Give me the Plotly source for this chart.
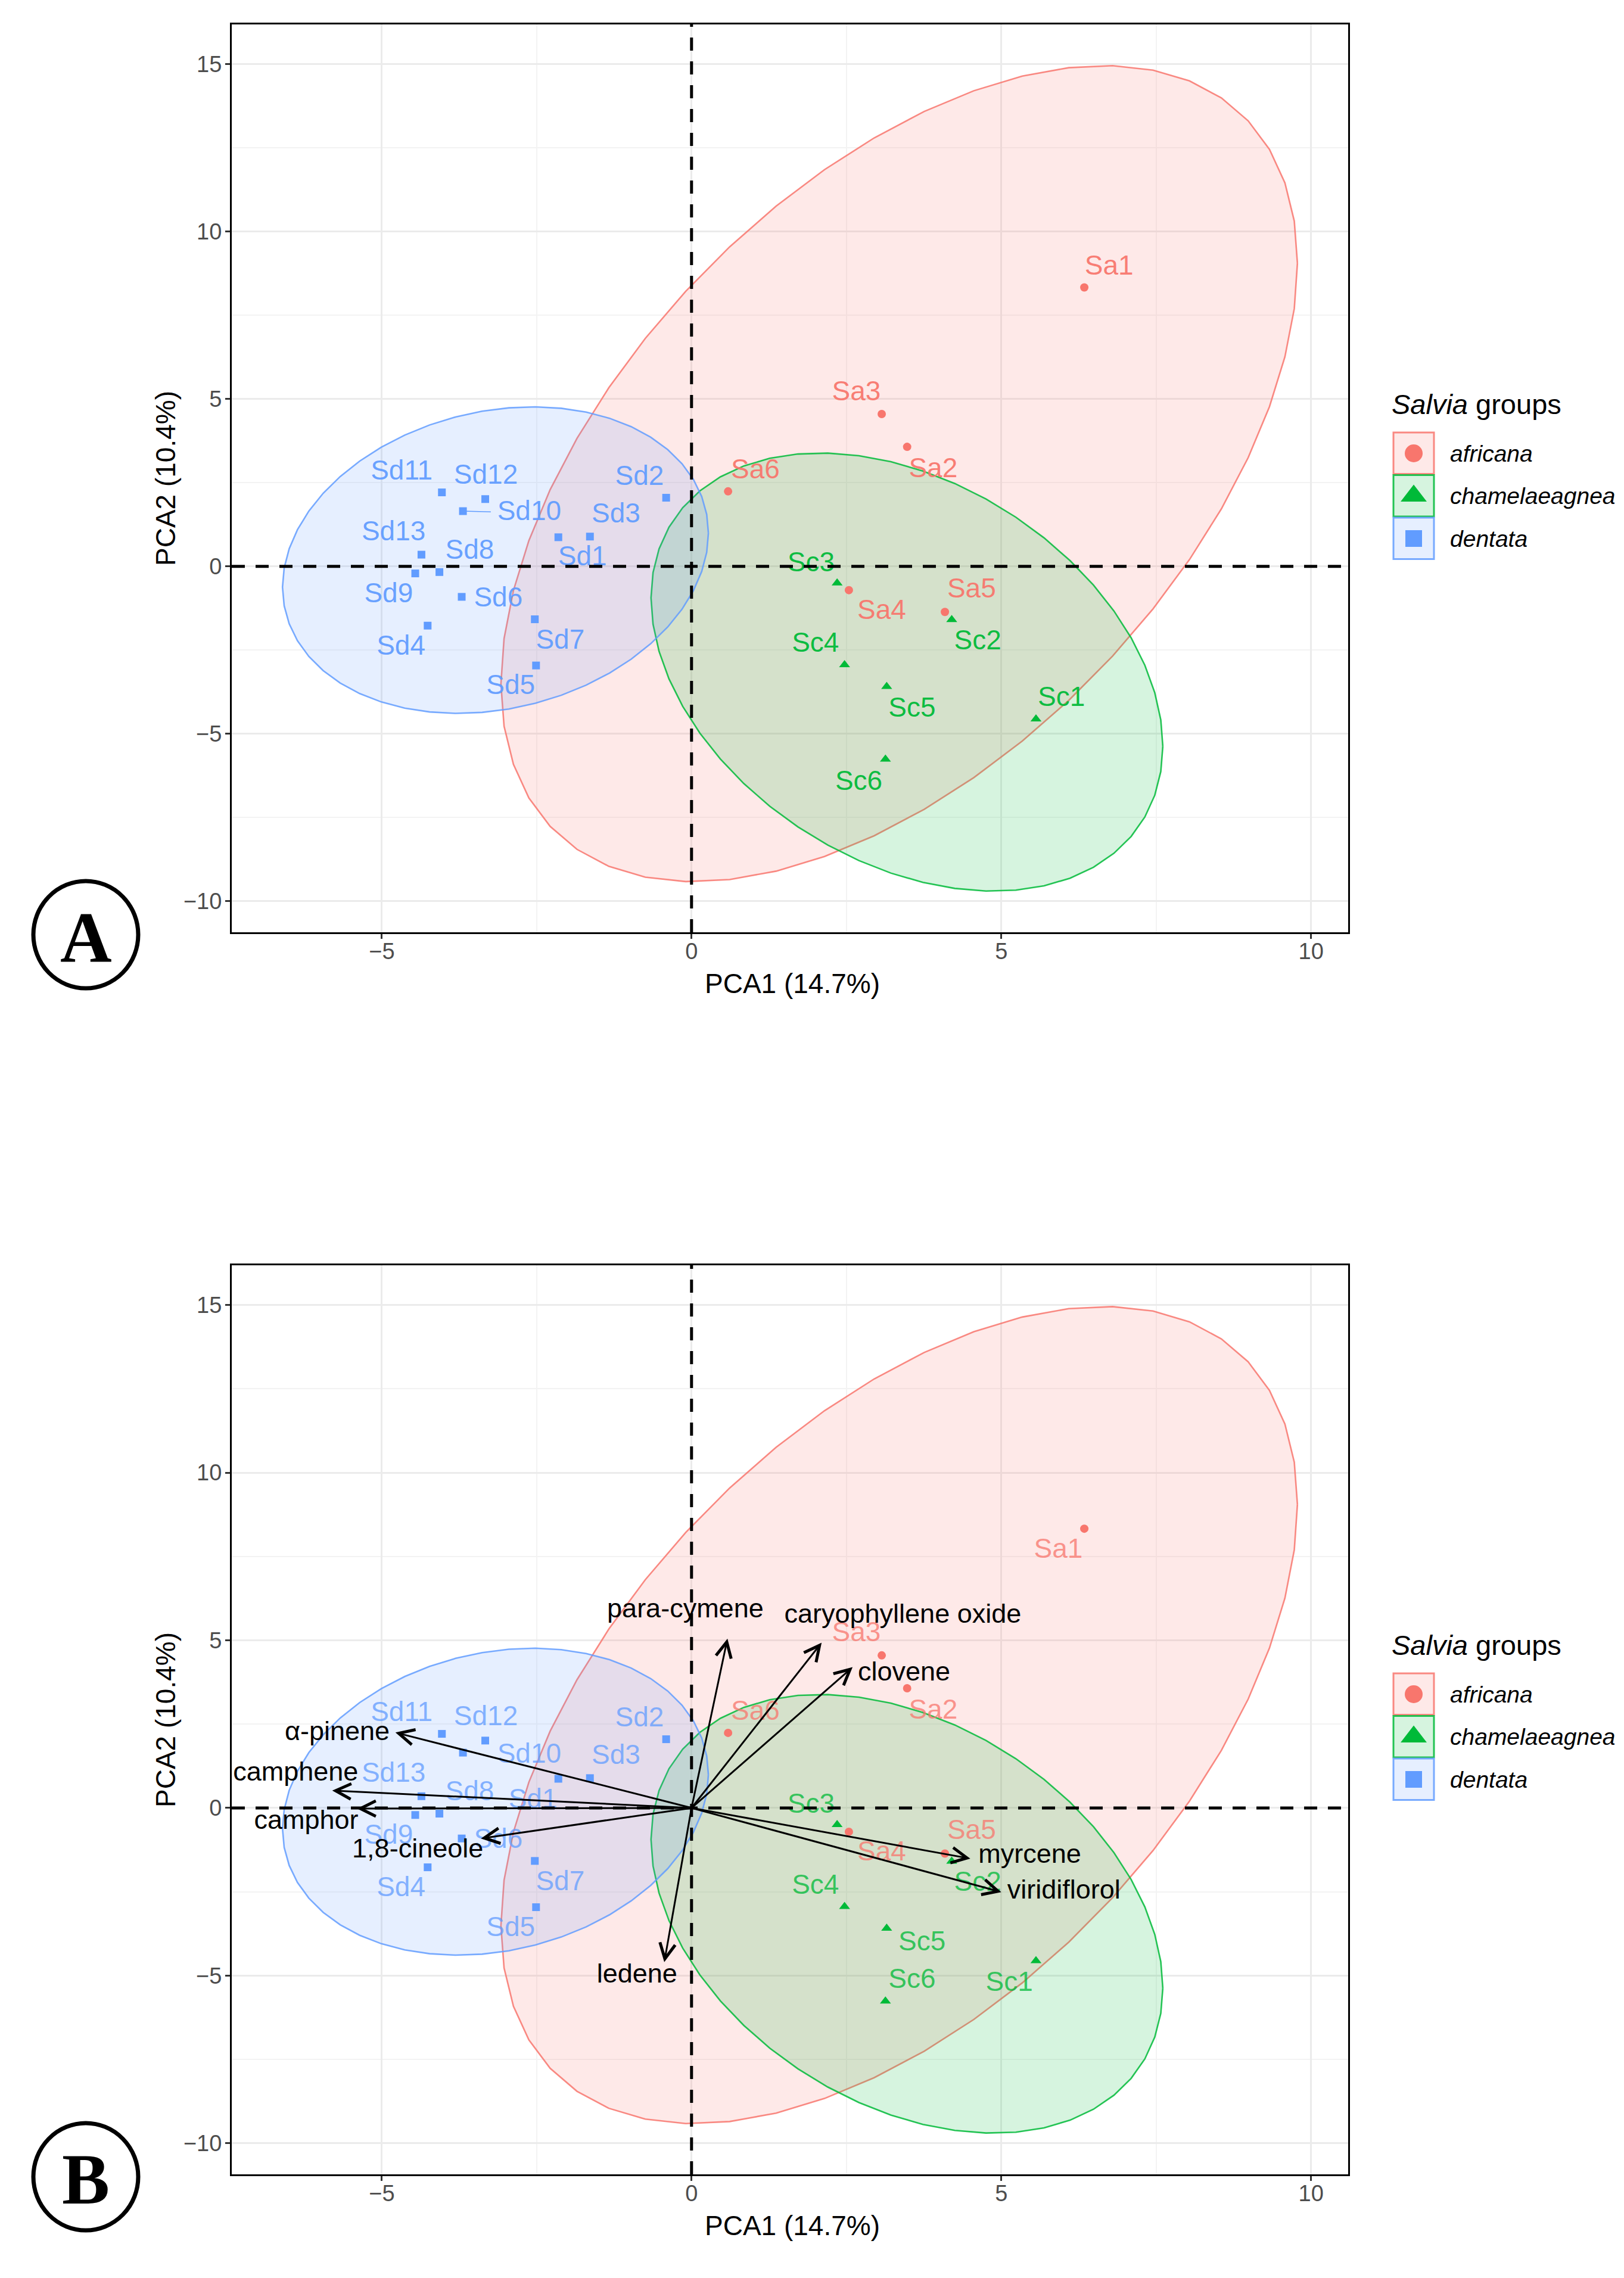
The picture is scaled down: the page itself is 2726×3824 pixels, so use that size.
import numpy as np
import plotly.graph_objects as go

# PCA scores of the samples
africana_ids = ['Sa1', 'Sa2', 'Sa3', 'Sa4', 'Sa5', 'Sa6']
africana_pc1 = [6.34, 3.48, 3.07, 2.54, 4.09, 0.59]
africana_pc2 = [8.33, 3.57, 4.55, -0.71, -1.36, 2.24]

chamelaeagnea_ids = ['Sc1', 'Sc2', 'Sc3', 'Sc4', 'Sc5', 'Sc6']
chamelaeagnea_pc1 = [5.56, 4.20, 2.35, 2.47, 3.15, 3.13]
chamelaeagnea_pc2 = [-4.56, -1.59, -0.50, -2.94, -3.59, -5.76]

dentata_ids = ['Sd1', 'Sd2', 'Sd3', 'Sd4', 'Sd5', 'Sd6', 'Sd7', 'Sd8', 'Sd9', 'Sd10', 'Sd11', 'Sd12', 'Sd13']
dentata_pc1 = [-2.15, -0.41, -1.64, -4.26, -2.51, -3.71, -2.53, -4.07, -4.46, -3.69, -4.03, -3.33, -4.36]
dentata_pc2 = [0.87, 2.05, 0.89, -1.77, -2.96, -0.91, -1.58, -0.17, -0.21, 1.65, 2.21, 2.01, 0.35]

# variable loadings (arrow tips, panel B)
loading_names = ['α-pinene', 'camphene', 'camphor', '1,8-cineole', 'ledene', 'para-cymene',
                 'caryophyllene oxide', 'clovene', 'myrcene', 'viridiflorol']
loading_pc1 = [-4.78, -5.80, -5.40, -3.40, -0.44, 0.58, 2.10, 2.60, 4.50, 5.00]
loading_pc2 = [2.25, 0.52, -0.02, -0.91, -4.60, 5.05, 4.93, 4.20, -1.51, -2.51]

x_title = 'PCA1 (14.7%)'
y_title = 'PCA2 (10.4%)'

# label nudges (repel result), data units
nudge_a = {
    'Sa1': (0.40, 0.59), 'Sa2': (0.42, -0.70), 'Sa3': (-0.41, 0.62), 'Sa4': (0.53, -0.65),
    'Sa5': (0.43, 0.64), 'Sa6': (0.44, 0.59),
    'Sc1': (0.41, 0.59), 'Sc2': (0.42, -0.68), 'Sc3': (-0.42, 0.56), 'Sc4': (-0.47, 0.59),
    'Sc5': (0.41, -0.69), 'Sc6': (-0.43, -0.71),
    'Sd1': (0.39, -0.63), 'Sd2': (-0.43, 0.59), 'Sd3': (0.42, 0.63), 'Sd4': (-0.43, -0.66),
    'Sd5': (-0.41, -0.65), 'Sd6': (0.59, -0.08), 'Sd7': (0.41, -0.67), 'Sd8': (0.49, 0.60),
    'Sd9': (-0.43, -0.66), 'Sd10': (1.07, -0.07), 'Sd11': (-0.65, 0.59), 'Sd12': (0.01, 0.67),
    'Sd13': (-0.45, 0.64),
}
nudge_b = dict(nudge_a)
nudge_b.update({'Sa1': (-0.42, -0.67), 'Sc1': (-0.43, -0.69), 'Sc5': (0.57, -0.46),
                'Sc6': (0.43, 0.60), 'Sd1': (-0.41, -0.66), 'Sd10': (1.07, -0.10)})
loading_nudge = [(-0.94, -0.03), (-0.59, 0.49), (-0.82, -0.40), (-1.02, -0.36), (-0.44, -0.40),
                 (-0.68, 0.84), (1.31, 0.80), (0.83, -0.19), (0.96, 0.07), (1.01, 0.01)]

FONT = 'Liberation Sans, Arial, sans-serif'
W, H = 2726, 3824
PANEL_X = (381, 2255)
PANEL_Y = {'A': (33, 1557), 'B': (2116, 3642)}

groups = [
    ('africana', africana_ids, africana_pc1, africana_pc2, '#F8766D', 'circle', 14, 30),
    ('chamelaeagnea', chamelaeagnea_ids, chamelaeagnea_pc1, chamelaeagnea_pc2, '#00BA38', 'triangle-up', 16, 38),
    ('dentata', dentata_ids, dentata_pc1, dentata_pc2, '#619CFF', 'square', 13, 28),
]


def rgba(hex_color, a):
    h = hex_color.lstrip('#')
    return f'rgba({int(h[0:2], 16)},{int(h[2:4], 16)},{int(h[4:6], 16)},{a})'


def t_ellipse(xs, ys, level=0.95, segments=51):
    # same construction as ggplot2::stat_ellipse (t based), with sample covariance
    pts = np.column_stack([xs, ys])
    n = len(pts)
    center = pts.mean(axis=0)
    cov = np.cov(pts, rowvar=False)
    dfd = n - 1
    fq = dfd / 2 * ((1 - level) ** (-2 / dfd) - 1)  # qf(level, 2, dfd)
    radius = np.sqrt(2 * fq)
    t = np.linspace(0, 2 * np.pi, segments)
    unit = np.column_stack([np.cos(t), np.sin(t)])
    return center + radius * unit @ np.linalg.cholesky(cov).T


ellipses = [t_ellipse(g[2], g[3]) for g in groups]
allpts = np.vstack(ellipses)
xlo, xhi = allpts[:, 0].min(), allpts[:, 0].max()
ylo, yhi = allpts[:, 1].min(), allpts[:, 1].max()
x_range = [xlo - 0.05 * (xhi - xlo), xhi + 0.05 * (xhi - xlo)]
y_range = [ylo - 0.05 * (yhi - ylo), yhi + 0.05 * (yhi - ylo)]

fig = go.Figure()
annotations = []
shapes = []


def add_panel(xa, ya, nudges, label_alpha, with_segments):
    for (name, ids, pc1, pc2, col, sym, msize, _), ell in zip(groups, ellipses):
        fig.add_trace(go.Scatter(x=ell[:, 0], y=ell[:, 1], mode='lines', fill='toself',
                                 fillcolor=rgba(col, 0.16), line=dict(color=rgba(col, 0.85), width=2.6),
                                 xaxis=xa, yaxis=ya, showlegend=False, hoverinfo='skip'))
    for name, ids, pc1, pc2, col, sym, msize, _ in groups:
        if with_segments:
            for i, s in enumerate(ids):
                dx, dy = nudges[s]
                if np.hypot(dx, dy) > 0.9:
                    fig.add_trace(go.Scatter(x=[pc1[i], pc1[i] + dx - np.sign(dx) * 0.62],
                                             y=[pc2[i], pc2[i] + dy * 0.3], mode='lines',
                                             line=dict(color=col, width=1.5),
                                             xaxis=xa, yaxis=ya, showlegend=False, hoverinfo='skip'))
        fig.add_trace(go.Scatter(x=pc1, y=pc2, mode='markers',
                                 marker=dict(symbol=sym, size=msize, color=col, line=dict(width=0)),
                                 xaxis=xa, yaxis=ya, showlegend=False, hoverinfo='skip'))
        lx = [pc1[i] + nudges[s][0] for i, s in enumerate(ids)]
        ly = [pc2[i] + nudges[s][1] for i, s in enumerate(ids)]
        fig.add_trace(go.Scatter(x=lx, y=ly, mode='text', text=ids, textposition='middle center',
                                 textfont=dict(family=FONT, size=46, color=rgba(col, label_alpha)),
                                 xaxis=xa, yaxis=ya, showlegend=False, hoverinfo='skip'))
    shapes.append(dict(type='line', xref=xa, yref=ya + ' domain', x0=0, x1=0, y0=0, y1=1,
                       line=dict(color='black', width=5, dash='22px,18px'), layer='above'))
    shapes.append(dict(type='line', xref=xa + ' domain', yref=ya, x0=0, x1=1, y0=0, y1=0,
                       line=dict(color='black', width=5, dash='22px,18px'), layer='above'))


add_panel('x', 'y', nudge_a, 0.95, True)
add_panel('x2', 'y2', nudge_b, 0.75, False)

# loading arrows and their labels in panel B
for name, px_, py_ in zip(loading_names, loading_pc1, loading_pc2):
    annotations.append(dict(x=px_, y=py_, ax=0, ay=0, xref='x2', yref='y2', axref='x2', ayref='y2',
                            text='', showarrow=True, arrowhead=5, arrowsize=1.7, arrowwidth=3,
                            arrowcolor='black', standoff=0))
fig.add_trace(go.Scatter(x=[p + n[0] for p, n in zip(loading_pc1, loading_nudge)],
                         y=[p + n[1] for p, n in zip(loading_pc2, loading_nudge)],
                         mode='text', text=loading_names, textposition='middle center',
                         textfont=dict(family=FONT, size=45, color='black'),
                         xaxis='x2', yaxis='y2', showlegend=False, hoverinfo='skip'))

# canvas axis in pixel units for legend, axis titles and panel letters
for panel, (top, bottom) in PANEL_Y.items():
    cx = (PANEL_X[0] + PANEL_X[1]) / 2
    cy = (top + bottom) / 2
    annotations.append(dict(x=cx + 4, y=bottom + 86, xref='x3', yref='y3', text=x_title, showarrow=False,
                            font=dict(family=FONT, size=46, color='black')))
    annotations.append(dict(x=270, y=cy, xref='x3', yref='y3', text=y_title, showarrow=False, textangle=-90,
                            font=dict(family=FONT, size=46, color='black')))
    # panel letter
    ly = bottom + 4
    shapes.append(dict(type='circle', xref='x3', yref='y3', x0=48, x1=224, y0=ly - 90, y1=ly + 90,
                       line=dict(color='black', width=7)))
    annotations.append(dict(x=136, y=ly + 4, xref='x3', yref='y3', text=f'<b>{panel}</b>', showarrow=False,
                            font=dict(family='Liberation Serif, Times New Roman, serif', size=120, color='black')))
    # legend
    lt = top + 637
    annotations.append(dict(x=2326, y=lt, xref='x3', yref='y3', xanchor='left', yanchor='middle',
                            text='<i>Salvia</i> groups', showarrow=False,
                            font=dict(family=FONT, size=47, color='black')))
    for i, (name, ids, pc1, pc2, col, sym, msize, lsize) in enumerate(groups):
        y0 = top + 684 + i * 71.5
        shapes.append(dict(type='rect', xref='x3', yref='y3', x0=2331, x1=2399, y0=y0 + 1, y1=y0 + 70.5,
                           fillcolor=rgba(col, 0.16), line=dict(color=rgba(col, 0.85), width=3), layer='below'))
        fig.add_trace(go.Scatter(x=[2365], y=[y0 + 36], mode='markers',
                                 marker=dict(symbol=sym, size=lsize, color=col, line=dict(width=0)),
                                 xaxis='x3', yaxis='y3', showlegend=False, hoverinfo='skip'))
        annotations.append(dict(x=2424, y=y0 + 36, xref='x3', yref='y3', xanchor='left', yanchor='middle',
                                text=f'<i>{name}</i>', showarrow=False,
                                font=dict(family=FONT, size=39, color='black')))


def data_axis(domain, rng, anchor, standoff):
    return dict(domain=domain, range=rng, anchor=anchor, tick0=0, dtick=5, ticks='outside', ticklen=8,
                tickwidth=3, tickcolor='#333333', showline=True, linewidth=3, linecolor='black', mirror=True,
                showgrid=True, gridcolor='#EBEBEB', gridwidth=2.5, zeroline=False,
                minor=dict(dtick=2.5, showgrid=True, gridcolor='#F3F3F3', gridwidth=1.5),
                tickfont=dict(family=FONT, size=38, color='#4D4D4D'), ticklabelstandoff=standoff,
                fixedrange=True)


xdom = [PANEL_X[0] / W, PANEL_X[1] / W]
ydom_a = [1 - PANEL_Y['A'][1] / H, 1 - PANEL_Y['A'][0] / H]
ydom_b = [1 - PANEL_Y['B'][1] / H, 1 - PANEL_Y['B'][0] / H]

fig.update_layout(
    width=W, height=H, autosize=False,
    margin=dict(l=0, r=0, t=0, b=0),
    paper_bgcolor='white', plot_bgcolor='rgba(0,0,0,0)',
    xaxis=data_axis(xdom, x_range, 'y', -12),
    yaxis=data_axis(ydom_a, y_range, 'x', -2),
    xaxis2=data_axis(xdom, x_range, 'y2', -12),
    yaxis2=data_axis(ydom_b, y_range, 'x2', -2),
    xaxis3=dict(domain=[0, 1], range=[0, W], anchor='y3', visible=False, fixedrange=True),
    yaxis3=dict(domain=[0, 1], range=[H, 0], anchor='x3', visible=False, fixedrange=True),
    annotations=annotations,
    shapes=shapes,
    showlegend=False,
)

fig.write_html('out.html')
